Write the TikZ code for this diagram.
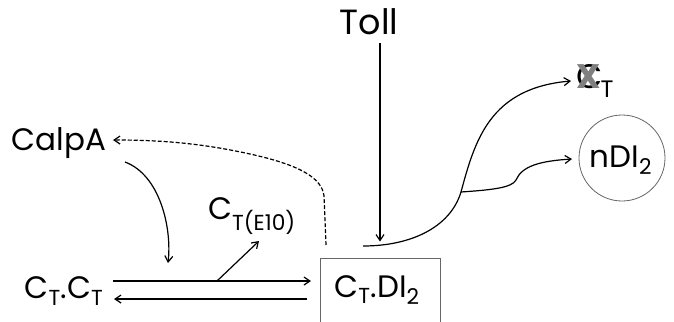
\documentclass[tikz,border=0pt]{standalone}
\usepackage{fontspec}
\setmainfont{Poppins}
\usetikzlibrary{arrows.meta}
\tikzset{
  lbl/.style={inner sep=0pt, font=\fontsize{31}{33}\selectfont},
  conn/.style={line width=1.2pt, -{Straight Barb[length=6pt,width=8pt]}},
  back/.style={line width=1.2pt},
}
\newcommand{\subT}[1]{\textsubscript{#1}}
\begin{document}
\begin{tikzpicture}[x=1pt,y=-1pt]
\useasboundingbox (0,0) rectangle (674,321);
% nodes
\node[lbl, font=\fontsize{35}{37}\selectfont] (toll) at (369,22) {Toll};
\node[draw=gray!80!black, line width=0.8pt, minimum width=120pt, minimum height=90pt, inner sep=0pt] (box) at (380,303) {};
\node[lbl] (ctdi) at (377,290) {C\subT{T}.DI\subT{2}};
\node[lbl] (ctct) at (64,291) {C\subT{T}.C\subT{T}};
\node[lbl] (calpa) at (59,143) {CalpA};
\node[lbl, anchor=west] (ce) at (208,216) {C\subT{T(E10)}};
\node[draw=gray!80!black, line width=0.8pt, circle, minimum size=86pt, inner sep=0pt] (ndi) at (622,158) {};
\node[lbl] (nditext) at (621,160) {nDI\subT{2}};
\node[lbl, anchor=west, font=\fontsize{34}{36}\selectfont] (cx) at (576,81) {\rlap{C}\textcolor{gray}{\textbf{X}}\subT{T}};
% coordinates
\coordinate (f1) at (113,281);
\coordinate (f2) at (311,281);
\coordinate (r1) at (307,299);
\coordinate (r2) at (114,299);
\coordinate (br) at (217,281);
\coordinate (bre) at (259,241);
\coordinate (ca1) at (125,162);
\coordinate (ca2) at (168,263);
\coordinate (ds) at (326,245);
\coordinate (dc) at (324,196);
\coordinate (de) at (113,140);
\coordinate (m0) at (363,246);
\coordinate (m1) at (461,192);
\coordinate (m2) at (571,81);
\coordinate (b1) at (516,180);
\coordinate (b2) at (572,159);
% connectors
\draw[conn] ([yshift=-8pt]toll.south -| box.north) -- ([yshift=16pt]box.north);
\draw[conn] (f1) -- (f2);
\draw[conn] (r1) -- (r2);
\draw[conn] (br) -- (bre);
\draw[conn] (ca1) .. controls (160,175) and (172,228) .. (ca2);
\draw[conn, dash pattern=on 4pt off 2pt] (ds) -- (dc) .. controls (322,178) and (300,165) .. (250,154) .. controls (200,143) and (160,140) .. (de);
\draw[back] (m0) .. controls (410,246) and (450,228) .. (m1);
\draw[conn] (m1) .. controls (475,140) and (490,88) .. (m2);
\draw[conn] (m1) .. controls (490,190) and (512,188) .. (b1) .. controls (522,166) and (540,161) .. (b2);
\end{tikzpicture}
\end{document}
